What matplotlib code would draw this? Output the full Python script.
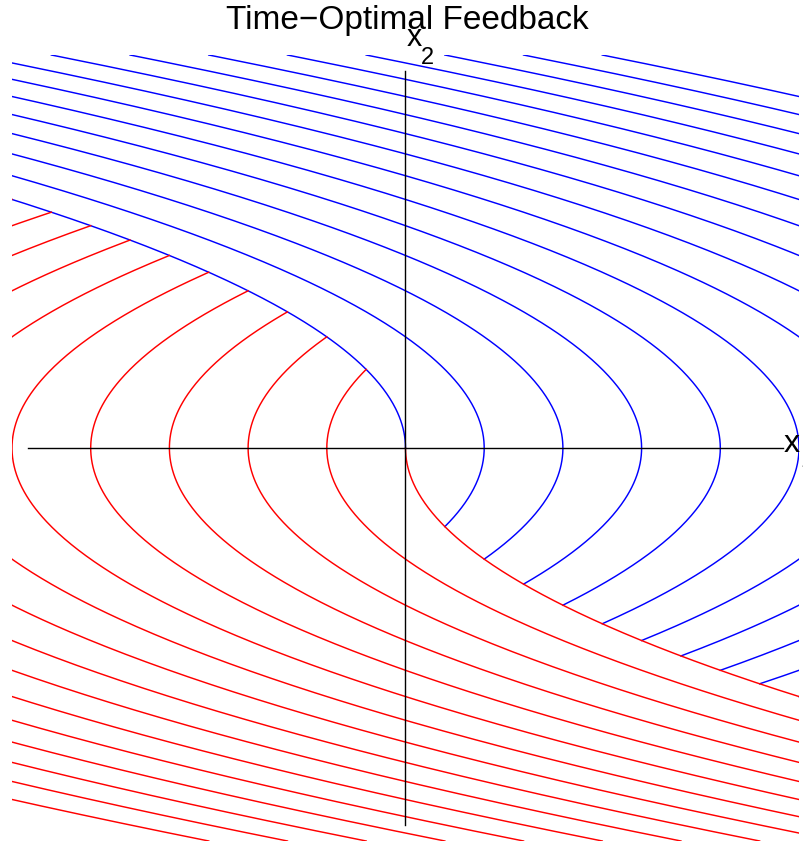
import numpy as np
import matplotlib
matplotlib.use("Agg")
import matplotlib.pyplot as plt

plt.rcParams.update({
    "font.family": ["Liberation Sans", "DejaVu Sans"],
})

# ── Data ─────────────────────────────────────────────────────────────
# vertex offsets c of the phase trajectories (double integrator)
BLUE_C = [0, 1, 2, 3, 4, 5, 6, 7, 8, 9, 10, 11, 12, 13, 14, 15]          # u = -1: x1 = c - x2^2/2
RED_C = [0, -1, -2, -3, -4, -5, -6, -7, -8, -9, -10, -11, -12, -13, -14, -15]  # u = +1: x1 = c + x2^2/2
X_LIM = [-5, 5]
Y_LIM = [-5, 5]
AXIS_SPAN = [-4.8, 4.8]
TITLE = "Time\u2212Optimal Feedback"


def main():
    fig = plt.figure(figsize=(8.04, 8.46), dpi=100)
    ax = fig.add_axes([12 / 804, 5 / 846, 787 / 804, 786 / 846])
    ax.set_xlim(X_LIM)
    ax.set_ylim(Y_LIM)
    ax.axis("off")

    # u = -1 trajectories, from the switching curve upward
    for c in BLUE_C:
        x2 = np.linspace(-np.sqrt(c), Y_LIM[1], 400)
        x1 = c - x2 ** 2 / 2
        ax.plot(x1, x2, color="#0000ff", lw=1.05)

    # u = +1 trajectories, from below up to the switching curve
    for c in RED_C:
        x2 = np.linspace(Y_LIM[0], np.sqrt(-c), 400)
        x1 = c + x2 ** 2 / 2
        ax.plot(x1, x2, color="#ff0000", lw=1.05)

    # coordinate axes
    ax.plot(AXIS_SPAN, [0, 0], color="black", lw=1.0)
    ax.plot([0, 0], AXIS_SPAN, color="black", lw=1.0)

    # axis labels (x_1 runs off the right edge as in the original)
    ax.text(4.80, -0.05, "x", fontsize=23, ha="left", va="baseline", clip_on=False)
    ax.text(5.02, -0.24, "1", fontsize=17, ha="left", va="baseline", clip_on=False)
    ax.text(0.01, 5.12, "x", fontsize=22, ha="left", va="baseline", clip_on=False)
    ax.text(0.20, 4.89, "2", fontsize=17, ha="left", va="baseline", clip_on=False)

    fig.text(407 / 804, 1 - 29 / 846, TITLE, fontsize=24, ha="center", va="baseline")

    fig.savefig("out.png", dpi=100)
    plt.close(fig)


if __name__ == "__main__":
    main()
